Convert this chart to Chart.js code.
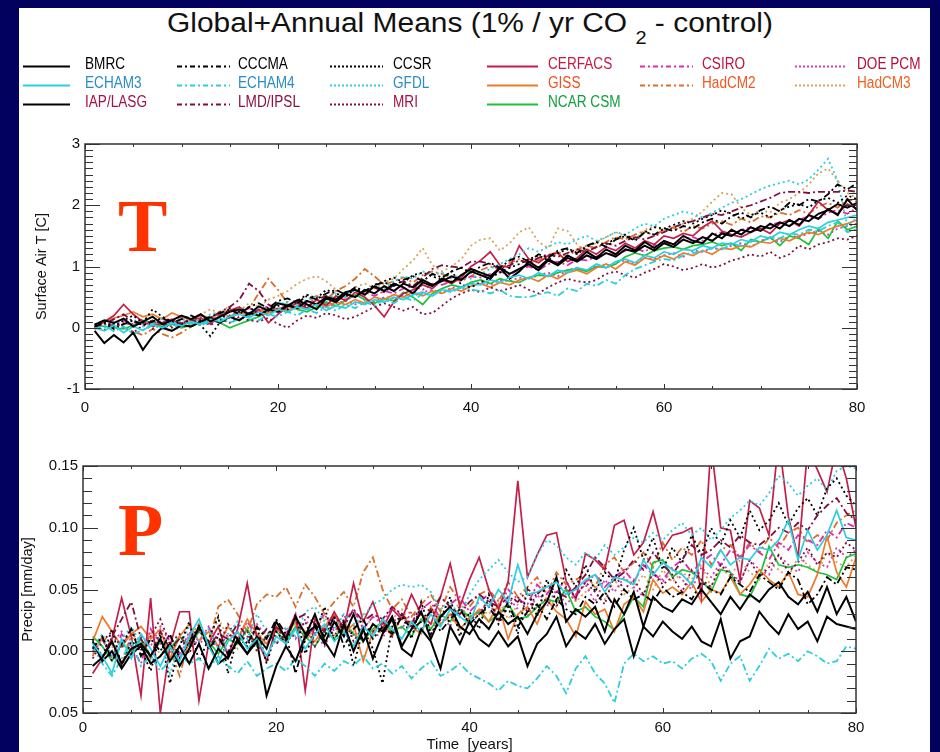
<!DOCTYPE html>
<html>
<head>
<meta charset="utf-8">
<script src="https://cdn.jsdelivr.net/npm/chart.js@4.4.1/dist/chart.umd.min.js"></script>
<style>
  body { margin: 0; width: 940px; height: 752px; overflow: hidden; position: relative;
         background: #02025e; font-family: "Liberation Sans", Arial, sans-serif; }
  #sheet { position: absolute; left: 19px; top: 8px; width: 911px; height: 744px; background: #fff; }
  #title { position: absolute; left: 470px; top: 10px; font-size: 27px; line-height: 27px;
           white-space: nowrap; color: #111; transform-origin: center top; }
  #title .sub { font-size: 18px; position: relative; top: 12px; }
  .leg { position: absolute; font-size: 16px; line-height: 16px; white-space: nowrap;
         transform: scaleX(0.85); transform-origin: left center; }
  .big { position: absolute; font-family: "Liberation Serif", "Times New Roman", serif;
         font-weight: bold; font-size: 74px; line-height: 74px; color: #ff3300; }
  canvas { position: absolute; }
</style>
</head>
<body>
<div id="sheet"></div>
<div id="title">Global+Annual Means (1% / yr CO <span class="sub">2</span> - control)</div>
<canvas id="legendLines" width="940" height="60" style="left:0;top:56px"></canvas>
<div id="legendText"></div>
<canvas id="tempChart" width="911" height="294" style="left:19px;top:126px"></canvas>
<canvas id="precipChart" width="911" height="302" style="left:19px;top:450px"></canvas>
<div class="big" style="left:118px;top:189px">T</div>
<div class="big" style="left:118px;top:493px">P</div>
<script>
const years = [1,2,3,4,5,6,7,8,9,10,11,12,13,14,15,16,17,18,19,20,
  21,22,23,24,25,26,27,28,29,30,31,32,33,34,35,36,37,38,39,40,
  41,42,43,44,45,46,47,48,49,50,51,52,53,54,55,56,57,58,59,60,
  61,62,63,64,65,66,67,68,69,70,71,72,73,74,75,76,77,78,79,80];

const models = ['BMRC', 'ECHAM3', 'IAP/LASG', 'CCCMA', 'ECHAM4', 'LMD/IPSL', 'CCSR', 'GFDL',
  'MRI', 'CERFACS', 'GISS', 'NCAR CSM', 'CSIRO', 'HadCM2', 'DOE PCM', 'HadCM3'];

// Surface air temperature change [C]
const tBMRC = [0.05,0.12,0.08,0.15,0.02,0.10,0.18,0.06,0.12,0.20, 0.14,0.22,0.10,0.18,0.26,0.30,0.22,0.35,0.28,0.40,
  0.36,0.45,0.38,0.30,0.48,0.42,0.55,0.50,0.62,0.56, 0.68,0.60,0.72,0.66,0.78,0.70,0.76,0.84,0.78,0.92,
  0.86,0.80,0.98,0.88,0.96,1.04,0.94,1.10,1.02,1.14, 1.08,1.18,1.12,1.22,1.16,1.28,1.24,1.34,1.26,1.38,
  1.32,1.44,1.38,1.48,1.42,1.54,1.50,1.60,1.56,1.66, 1.62,1.72,1.66,1.78,1.74,1.86,1.92,2.02,1.96,2.04];
const tECHAM3 = [0.00,-0.05,0.04,-0.08,0.02,-0.04,0.06,0.00,0.08,0.03, 0.10,0.06,0.14,0.10,0.18,0.22,0.16,0.26,0.20,0.30,
  0.26,0.34,0.30,0.38,0.28,0.36,0.32,0.42,0.38,0.46, 0.42,0.50,0.46,0.54,0.58,0.52,0.62,0.60,0.66,0.72,
  0.70,0.78,0.74,0.82,0.86,0.80,0.90,0.84,0.94,0.90, 0.98,0.94,1.04,0.98,1.08,1.12,1.06,1.18,1.14,1.24,
  1.20,1.28,1.26,1.34,1.30,1.38,1.36,1.44,1.40,1.50, 1.46,1.56,1.52,1.60,1.66,1.62,1.72,1.76,1.80,1.84];
const tIAP = [-0.05,-0.25,-0.12,-0.24,-0.08,-0.36,-0.14,0.00,-0.05,0.04, 0.02,0.10,0.16,0.08,0.18,0.12,0.24,0.20,0.30,0.26,
  0.36,0.32,0.44,0.38,0.50,0.46,0.58,0.62,0.54,0.68, 0.60,0.72,0.66,0.56,0.74,0.68,0.80,0.74,0.86,0.96,
  0.90,0.84,0.98,0.80,0.92,1.08,0.98,1.12,1.04,1.18, 1.10,1.24,1.14,1.28,1.20,1.34,1.26,1.40,1.30,1.42,
  1.36,1.50,1.42,1.38,1.54,1.46,1.60,1.52,1.64,1.58, 1.70,1.62,1.76,1.68,1.84,1.78,1.94,1.84,2.10,1.92];
const tCCCMA = [0.02,0.08,-0.02,0.06,0.12,0.04,0.10,0.16,0.08,0.14, 0.20,0.12,0.18,0.24,0.30,0.22,0.34,0.40,0.32,0.44,
  0.48,0.40,0.52,0.46,0.56,0.62,0.54,0.66,0.60,0.70, 0.74,0.68,0.78,0.84,0.76,0.88,0.82,0.92,0.98,0.90,
  1.00,1.06,0.98,1.10,1.16,1.08,1.20,1.14,1.26,1.30, 1.22,1.34,1.40,1.32,1.44,1.50,1.42,1.56,1.52,1.62,
  1.58,1.66,1.62,1.72,1.78,1.70,1.82,1.88,1.80,1.92, 1.98,1.90,2.04,2.00,2.10,2.06,2.18,2.34,2.26,2.36];
const tECHAM4 = [-0.02,0.04,-0.06,0.02,-0.10,-0.04,0.04,-0.02,0.06,0.00, 0.08,0.04,0.10,0.16,0.08,0.14,0.20,0.12,0.22,0.18,
  0.26,0.20,0.30,0.24,0.34,0.28,0.38,0.32,0.42,0.36, 0.46,0.40,0.50,0.44,0.56,0.52,0.62,0.58,0.66,0.62,
  0.60,0.56,0.62,0.52,0.50,0.50,0.54,0.58,0.52,0.64, 0.60,0.72,0.68,0.78,0.72,0.86,0.96,1.02,1.08,1.12,
  1.10,1.18,1.22,1.26,1.30,1.28,1.36,1.34,1.42,1.40, 1.48,1.46,1.54,1.52,1.60,1.58,1.66,1.72,1.56,1.62];
const tLMD = [0.00,0.06,0.14,0.22,0.10,0.04,0.12,0.06,0.00,0.08, 0.14,0.06,0.16,0.26,0.34,0.46,0.72,0.60,0.38,0.30,
  0.36,0.42,0.34,0.46,0.52,0.44,0.56,0.50,0.60,0.66, 0.58,0.70,0.76,0.68,0.82,0.96,1.02,1.00,0.98,1.08,
  1.08,1.04,0.96,1.02,1.10,1.06,1.14,1.20,1.16,1.22, 1.28,1.24,1.32,1.38,1.34,1.42,1.48,1.44,1.50,1.56,
  1.64,1.70,1.74,1.80,1.86,1.84,1.90,1.96,2.00,2.06, 2.12,2.20,2.22,2.22,2.20,2.22,2.22,2.22,2.24,2.22];
const tCCSR = [0.04,0.10,0.02,0.12,0.20,0.08,0.30,0.18,0.10,0.06, 0.14,0.04,-0.14,0.10,0.32,0.26,0.34,0.22,0.28,0.36,
  0.30,0.44,0.54,0.48,0.62,0.56,0.50,0.64,0.58,0.70, 0.76,0.82,0.74,0.86,0.90,0.84,0.78,0.92,0.70,0.66,
  0.74,0.82,0.90,0.98,1.04,1.12,1.18,1.10,1.22,1.28, 1.20,1.32,1.40,1.36,1.46,1.52,1.44,1.56,1.64,1.62,
  1.68,1.74,1.70,1.78,1.84,1.92,1.86,1.78,1.84,1.88, 1.80,1.92,1.98,2.02,1.96,2.08,2.12,2.04,2.16,2.10];
const tGFDL = [0.06,0.00,0.10,0.04,0.14,0.02,0.08,0.16,0.06,0.12, 0.18,0.10,0.22,0.26,0.18,0.28,0.24,0.34,0.30,0.38,
  0.42,0.36,0.46,0.52,0.44,0.56,0.50,0.62,0.58,0.68, 0.64,0.76,0.84,0.80,0.92,0.86,0.90,0.82,0.86,0.80,
  0.88,0.96,1.04,1.12,1.20,1.30,1.24,1.32,1.40,1.36, 1.44,1.50,1.42,1.48,1.56,1.52,1.62,1.70,1.66,1.78,
  1.84,1.90,1.86,1.80,1.88,1.96,2.04,2.10,2.18,2.26, 2.32,2.36,2.40,2.34,2.42,2.58,2.76,2.40,1.66,1.80];
const tMRI = [0.02,-0.04,0.06,0.00,-0.08,0.04,-0.02,0.08,0.02,0.10, 0.06,0.12,0.04,0.14,0.08,0.18,0.12,0.10,0.16,0.06,
  0.00,0.12,0.20,0.16,0.24,0.20,0.14,0.18,0.26,0.34, 0.40,0.34,0.28,0.34,0.22,0.24,0.36,0.48,0.56,0.62,
  0.58,0.66,0.60,0.64,0.70,0.62,0.56,0.66,0.74,0.80, 0.76,0.74,0.78,0.88,0.92,0.86,0.82,0.90,0.96,1.04,
  1.00,0.94,0.98,1.04,0.98,1.02,1.10,1.14,1.20,1.16, 1.24,1.14,1.20,1.34,1.28,1.36,1.40,1.46,1.44,1.50];
const tCERFACS = [-0.02,0.10,0.20,0.38,0.22,0.10,0.02,0.08,0.14,0.04, 0.10,0.16,0.06,0.20,0.28,0.34,0.22,0.30,0.08,0.22,
  0.34,0.40,0.32,0.46,0.36,0.52,0.44,0.58,0.50,0.36, 0.18,0.42,0.56,0.62,0.70,0.64,0.78,0.72,0.82,1.00,
  1.10,1.24,1.02,0.98,1.34,1.12,1.06,1.18,1.22,1.08, 1.14,1.28,1.20,1.32,1.26,1.38,1.30,1.42,1.36,1.50,
  1.46,1.54,1.50,1.64,1.74,1.58,1.52,1.48,1.56,1.62, 1.54,1.70,1.76,1.66,1.84,2.06,1.92,1.86,2.02,1.94];
const tGISS = [0.04,0.10,0.16,0.20,0.26,0.18,0.22,0.14,0.24,0.18, 0.12,0.20,0.16,0.24,0.18,0.26,0.20,0.30,0.24,0.32,
  0.28,0.36,0.30,0.40,0.34,0.42,0.38,0.46,0.40,0.50, 0.46,0.54,0.50,0.58,0.52,0.60,0.56,0.64,0.60,0.68,
  0.72,0.66,0.74,0.70,0.78,0.82,0.76,0.86,0.80,0.90, 0.94,0.88,0.98,1.04,0.96,1.08,1.02,1.14,1.10,1.18,
  1.12,1.22,1.18,1.26,1.20,1.30,1.28,1.34,1.32,1.40, 1.38,1.46,1.42,1.50,1.56,1.52,1.60,1.66,1.70,1.76];
const tNCAR = [0.06,0.02,0.00,-0.02,0.04,0.12,0.08,0.02,0.06,0.00, 0.04,0.10,0.14,0.08,0.00,0.06,0.12,0.18,0.26,0.40,
  0.38,0.30,0.26,0.34,0.42,0.36,0.44,0.54,0.46,0.40, 0.48,0.44,0.58,0.50,0.38,0.56,0.64,0.70,0.66,0.74,
  0.78,0.72,0.80,0.76,0.74,0.82,0.86,0.84,0.90,0.94, 0.96,0.92,1.00,0.98,1.04,1.16,1.22,1.18,1.26,1.30,
  1.32,1.28,1.34,1.36,1.40,1.34,1.38,1.26,1.44,1.40, 1.48,1.34,1.50,1.46,1.36,1.62,1.46,1.74,1.60,1.66];
const tCSIRO = [0.00,0.08,0.04,0.12,0.06,0.14,0.10,0.04,0.12,0.18, 0.12,0.20,0.16,0.24,0.20,0.28,0.32,0.26,0.36,0.30,
  0.38,0.34,0.42,0.46,0.40,0.50,0.46,0.54,0.58,0.52, 0.60,0.56,0.64,0.68,0.62,0.72,0.70,0.76,0.80,0.84,
  0.82,0.88,0.92,0.86,0.96,1.00,0.94,1.04,1.08,1.02, 1.12,1.10,1.16,1.22,1.18,1.26,1.30,1.24,1.34,1.40,
  1.36,1.44,1.48,1.42,1.52,1.56,1.50,1.60,1.64,1.58, 1.68,1.72,1.66,1.76,1.82,1.78,1.88,1.92,1.86,1.96];
const tHadCM2 = [0.02,-0.04,0.06,0.00,-0.06,-0.12,-0.02,-0.10,-0.16,-0.08, 0.02,0.08,0.14,0.22,0.30,0.24,0.32,0.56,0.80,0.62,
  0.40,0.30,0.44,0.52,0.46,0.60,0.68,0.80,0.96,0.84, 0.70,0.76,0.82,0.74,0.86,0.92,0.88,0.80,0.76,0.84,
  0.94,1.00,0.96,1.06,1.12,1.04,1.10,1.18,1.24,1.16, 1.28,1.34,1.30,1.40,1.48,1.44,1.52,1.58,1.50,1.60,
  1.64,1.56,1.66,1.62,1.70,1.74,1.68,1.78,1.72,1.82, 1.80,1.88,1.84,1.92,1.86,1.98,2.04,1.96,2.10,2.06];
const tDOE = [0.02,0.06,0.00,0.08,0.04,0.10,0.02,0.12,0.06,0.14, 0.10,0.18,0.12,0.20,0.16,0.22,0.18,0.26,0.22,0.30,
  0.26,0.34,0.30,0.36,0.32,0.40,0.44,0.38,0.46,0.42, 0.50,0.48,0.54,0.52,0.58,0.62,0.56,0.66,0.64,0.70,
  0.74,0.70,0.78,0.76,0.82,0.80,0.86,0.90,0.84,0.94, 0.98,0.92,1.02,1.00,1.06,1.10,1.04,1.14,1.12,1.18,
  1.22,1.16,1.26,1.24,1.30,1.28,1.34,1.38,1.32,1.42, 1.46,1.40,1.50,1.48,1.54,1.58,1.52,1.62,1.66,1.70];
const tHadCM3 = [0.00,0.04,-0.04,0.08,0.02,0.10,0.06,0.16,0.12,0.08, 0.14,0.22,0.30,0.24,0.36,0.28,0.40,0.34,0.46,0.52,
  0.60,0.72,0.80,0.84,0.76,0.62,0.56,0.66,0.72,0.64, 0.74,0.80,0.96,1.10,1.30,1.02,0.92,1.00,1.12,1.34,
  1.44,1.46,1.26,1.38,1.56,1.64,1.40,1.30,1.62,1.58, 1.36,1.24,1.40,1.48,1.56,1.50,1.44,1.60,1.66,1.58,
  1.62,1.70,1.78,1.90,2.06,2.20,2.18,1.96,1.84,1.92, 1.88,2.04,2.10,2.20,2.34,2.52,2.60,2.40,2.20,2.12];

// Precipitation change [mm/day]
const pBMRC = [-0.012,-0.005,0.008,-0.010,0.002,0.006,-0.004,0.010,-0.008,0.004, -0.010,0.006,-0.014,0.002,-0.006,0.010,-0.002,0.008,-0.036,-0.012,
  0.004,-0.008,0.012,0.030,0.008,-0.004,0.022,0.000,0.018,-0.006, 0.014,0.026,0.002,-0.004,0.018,0.008,-0.014,0.020,0.006,0.024,
  0.010,0.004,0.016,0.004,0.012,-0.012,0.006,0.014,0.028,0.004, 0.016,0.010,0.022,0.006,0.018,0.026,-0.004,0.020,0.012,0.024,
  0.016,0.010,0.020,0.008,0.004,0.026,-0.006,0.008,0.012,0.032, 0.022,0.014,0.030,0.018,0.024,0.008,0.028,0.022,0.020,0.018];
const pECHAM3 = [0.006,-0.004,-0.018,0.010,-0.006,0.014,0.002,-0.012,0.004,-0.008, 0.012,0.026,0.004,-0.010,0.008,0.016,0.002,0.010,-0.004,0.012,
  0.006,0.018,0.002,0.014,0.022,0.008,0.016,0.004,0.020,0.012, 0.026,0.018,0.010,0.024,0.016,0.030,0.020,0.034,0.028,0.022,
  0.044,0.036,0.050,0.040,0.070,0.046,0.048,0.052,0.056,0.046, 0.050,0.058,0.062,0.048,0.060,0.058,0.054,0.074,0.062,0.072,
  0.066,0.062,0.054,0.076,0.068,0.082,0.070,0.076,0.074,0.084, 0.082,0.090,0.106,0.074,0.098,0.082,0.094,0.114,0.092,0.090];
const pIAP = [0.008,-0.008,0.000,-0.014,-0.002,0.004,-0.010,-0.004,0.006,-0.012, 0.002,0.020,0.006,-0.010,-0.004,0.008,-0.002,0.012,0.002,0.024,
  0.010,0.028,0.014,0.020,0.006,0.024,0.012,0.030,0.008,0.022, 0.016,0.028,0.004,0.018,0.032,0.010,0.028,0.036,0.020,0.014,
  0.026,0.018,0.032,0.022,0.028,0.014,0.030,0.040,0.060,0.024, 0.034,0.028,0.036,0.016,0.042,0.030,0.048,0.020,0.044,0.036,
  0.032,0.042,0.038,0.050,0.040,0.030,0.044,0.034,0.046,0.040, 0.050,0.056,0.044,0.038,0.048,0.032,0.052,0.030,0.044,0.024];
const pCCCMA = [0.002,0.012,-0.008,0.006,0.018,-0.004,0.010,0.000,0.014,-0.006, 0.008,0.020,0.002,0.012,-0.002,0.016,0.006,0.020,0.010,0.026,
  0.014,-0.018,0.010,0.022,0.012,0.028,0.004,0.018,0.026,0.010, 0.020,0.014,0.028,0.018,0.024,0.032,0.016,0.026,0.034,0.022,
  0.030,0.036,0.024,0.040,0.020,0.032,0.038,0.026,0.042,0.034, 0.030,0.044,0.038,0.048,0.036,0.050,0.042,0.046,0.040,0.052,
  0.044,0.048,0.042,0.056,0.050,0.046,0.060,0.054,0.048,0.062, 0.056,0.050,0.064,0.058,0.038,0.046,0.060,0.054,0.068,0.066];
const pECHAM4 = [0.004,-0.010,-0.020,-0.006,0.008,-0.012,-0.004,-0.016,-0.008,-0.002, -0.010,-0.006,-0.014,-0.004,-0.012,-0.018,-0.008,-0.020,-0.014,-0.010,
  -0.016,-0.006,-0.012,-0.020,-0.010,-0.016,-0.008,-0.012,-0.004,-0.014, -0.010,-0.018,-0.012,-0.022,-0.014,-0.008,-0.020,-0.016,-0.010,-0.018,
  -0.022,-0.026,-0.032,-0.024,-0.028,-0.030,-0.022,-0.012,-0.020,-0.034, -0.014,-0.004,-0.018,-0.026,-0.042,-0.010,-0.002,-0.008,-0.004,-0.010,
  -0.008,-0.014,-0.006,-0.002,-0.008,-0.024,-0.010,-0.004,-0.024,-0.012, 0.002,-0.006,-0.002,-0.008,0.000,-0.004,-0.010,-0.008,0.004,0.002];
const pLMD = [0.004,-0.008,0.012,0.026,0.040,0.010,-0.004,0.016,0.002,0.010, 0.006,0.018,0.004,0.014,0.010,0.022,0.012,0.008,0.018,0.006,
  0.014,0.026,0.030,0.022,0.016,0.028,0.020,0.034,0.024,0.030, 0.026,0.036,0.030,0.022,0.038,0.032,0.044,0.036,0.030,0.040,
  0.046,0.040,0.036,0.044,0.040,0.050,0.046,0.054,0.048,0.044, 0.052,0.062,0.076,0.068,0.058,0.064,0.074,0.066,0.080,0.070,
  0.062,0.074,0.086,0.078,0.082,0.090,0.084,0.094,0.088,0.086, 0.092,0.100,0.096,0.104,0.098,0.110,0.118,0.124,0.112,0.106];
const pCCSR = [0.010,-0.006,0.018,-0.012,0.008,0.002,-0.016,0.014,-0.026,0.004, 0.024,-0.008,0.010,0.028,-0.018,0.012,0.004,0.020,-0.010,0.016,
  0.006,0.030,-0.002,0.014,0.036,0.008,0.024,-0.012,0.018,0.002, -0.026,0.020,0.030,0.010,0.040,0.014,0.026,0.044,0.012,0.032,
  0.018,0.046,0.022,0.036,0.014,0.050,0.028,0.058,0.040,0.066, 0.052,0.070,0.048,0.064,0.056,0.082,0.100,0.074,0.092,0.066,
  0.084,0.072,0.094,0.078,0.100,0.086,0.106,0.092,0.114,0.098, 0.106,0.120,0.102,0.116,0.124,0.110,0.132,0.140,0.126,0.118];
const pGFDL = [0.002,0.014,-0.004,0.010,0.020,0.006,-0.008,0.012,-0.018,0.004, 0.020,0.008,0.018,0.002,0.014,0.024,0.010,0.030,0.016,0.006,
  0.020,0.012,0.032,0.036,0.024,0.018,0.030,0.022,0.028,0.038, 0.042,0.050,0.054,0.052,0.054,0.048,0.034,0.040,0.028,0.046,
  0.058,0.066,0.074,0.064,0.056,0.060,0.078,0.090,0.086,0.076, 0.070,0.080,0.074,0.086,0.078,0.084,0.092,0.088,0.096,0.090,
  0.098,0.104,0.094,0.100,0.090,0.098,0.108,0.114,0.122,0.118, 0.128,0.142,0.136,0.126,0.134,0.140,0.130,0.146,0.150,0.148];
const pMRI = [-0.006,0.008,0.016,0.002,0.020,-0.004,0.012,0.026,0.006,0.014, -0.002,0.018,0.008,0.004,0.022,0.010,0.016,0.000,0.012,0.020,
  0.008,0.014,0.024,0.004,0.018,0.012,0.026,0.008,0.020,0.016, 0.024,0.012,0.030,0.020,0.016,0.034,0.024,0.028,0.036,0.022,
  0.030,0.042,0.026,0.036,0.044,0.032,0.048,0.040,0.036,0.052, 0.044,0.056,0.048,0.038,0.062,0.050,0.058,0.046,0.064,0.054,
  0.060,0.048,0.066,0.058,0.052,0.070,0.062,0.056,0.074,0.060, 0.068,0.078,0.064,0.072,0.084,0.070,0.080,0.076,0.088,0.082];
const pCERFACS = [-0.018,-0.006,0.010,0.043,0.012,-0.036,0.043,-0.050,0.004,0.032, 0.032,-0.040,0.006,0.020,-0.004,0.018,0.055,0.010,-0.008,0.020,
  0.012,0.030,-0.032,0.026,0.016,0.032,0.018,0.055,0.024,0.040, 0.018,0.034,0.026,0.046,0.030,0.022,0.044,0.071,0.036,0.058,
  0.076,0.050,0.034,0.056,0.138,0.060,0.078,0.094,0.096,0.057, 0.042,0.079,0.074,0.066,0.102,0.106,0.078,0.088,0.113,0.082,
  0.094,0.096,0.100,0.044,0.168,0.100,0.098,0.058,0.122,0.116, 0.094,0.172,0.109,0.076,0.164,0.147,0.129,0.166,0.140,0.100];
const pGISS = [0.008,0.028,0.016,0.004,0.014,0.020,0.010,0.018,-0.006,0.012, 0.022,0.008,0.016,0.004,0.020,0.010,0.026,0.014,0.006,0.018,
  0.012,0.024,0.016,0.008,0.020,0.030,0.014,0.022,-0.008,0.016, 0.024,0.012,0.030,0.020,0.014,0.036,0.022,0.030,0.018,0.026,
  0.034,0.024,0.038,0.010,0.030,0.036,0.022,0.042,0.032,0.026, 0.012,0.040,0.030,0.034,0.016,0.038,0.044,0.032,0.058,0.047,
  0.052,0.046,0.056,0.040,0.050,0.047,0.060,0.046,0.054,0.066, 0.058,0.052,0.064,0.046,0.044,0.062,0.093,0.064,0.052,0.076];
const pNCAR = [0.012,0.004,-0.008,0.006,0.000,0.010,-0.004,0.008,0.002,0.012, 0.004,0.016,0.008,-0.002,0.010,0.006,0.018,0.004,0.012,0.016,
  0.008,0.020,0.012,0.004,0.016,0.010,0.022,0.014,0.008,0.018, 0.024,0.016,0.020,0.012,0.026,0.018,0.030,0.024,0.034,0.028,
  0.032,0.024,0.030,0.038,0.026,0.028,0.036,0.042,0.040,0.050, 0.032,0.036,0.028,0.024,0.017,0.030,0.044,0.036,0.072,0.074,
  0.060,0.066,0.064,0.058,0.048,0.066,0.064,0.046,0.044,0.060, 0.085,0.070,0.068,0.070,0.068,0.064,0.062,0.058,0.076,0.079];
const pCSIRO = [0.000,0.010,-0.006,0.014,0.004,-0.010,0.018,0.006,0.012,-0.002, 0.016,0.008,0.020,0.002,0.014,0.010,0.024,0.012,0.006,0.018,
  0.014,0.026,0.010,0.020,0.030,0.016,0.024,0.034,0.018,0.028, 0.022,0.036,0.028,0.020,0.034,0.040,0.026,0.038,0.044,0.032,
  0.040,0.046,0.036,0.050,0.042,0.038,0.054,0.046,0.058,0.050, 0.044,0.056,0.062,0.052,0.060,0.066,0.056,0.070,0.062,0.058,
  0.068,0.074,0.064,0.072,0.078,0.070,0.082,0.076,0.086,0.080, 0.074,0.088,0.082,0.094,0.090,0.086,0.098,0.092,0.104,0.100];
const pHadCM2 = [-0.004,0.012,0.006,-0.012,0.014,0.008,-0.006,0.016,0.002,-0.020, 0.010,0.022,0.006,0.036,0.042,0.030,0.016,0.038,0.046,0.044,
  0.052,0.036,0.054,0.044,0.030,0.040,0.048,0.036,0.064,0.076, 0.050,0.034,0.042,0.028,0.038,0.046,0.032,0.052,0.040,0.036,
  0.046,0.050,0.040,0.056,0.044,0.052,0.060,0.046,0.064,0.054, 0.058,0.062,0.052,0.070,0.076,0.064,0.072,0.080,0.068,0.088,
  0.074,0.084,0.078,0.090,0.070,0.082,0.086,0.076,0.088,0.080, 0.092,0.084,0.096,0.100,0.088,0.094,0.090,0.104,0.110,0.114];
const pDOE = [0.010,-0.004,0.006,0.016,-0.002,0.012,0.004,0.020,0.008,-0.006, 0.014,0.004,0.018,0.010,0.000,0.016,0.008,0.022,0.012,0.006,
  0.018,0.010,0.026,0.014,0.004,0.020,0.030,0.012,0.022,0.016, 0.010,0.028,0.018,0.032,0.024,0.014,0.030,0.020,0.036,0.026,
  0.032,0.040,0.024,0.044,0.034,0.028,0.046,0.036,0.050,0.038, 0.046,0.054,0.040,0.058,0.048,0.060,0.052,0.044,0.064,0.056,
  0.066,0.058,0.050,0.068,0.060,0.072,0.064,0.056,0.074,0.066, 0.062,0.078,0.070,0.064,0.080,0.072,0.068,0.084,0.076,0.082];
const pHadCM3 = [-0.002,0.010,0.004,-0.010,0.012,0.002,0.016,-0.004,0.008,0.014, 0.004,0.018,0.008,0.026,0.012,0.002,0.020,0.010,0.016,0.006,
  0.014,0.022,0.008,0.018,0.028,0.012,0.024,0.016,0.030,0.020, 0.014,0.026,0.034,0.022,0.030,0.018,0.036,0.028,0.040,0.024,
  0.034,0.030,0.042,0.026,0.038,0.046,0.032,0.044,0.036,0.050, 0.040,0.048,0.054,0.042,0.058,0.046,0.052,0.062,0.050,0.066,
  0.056,0.064,0.058,0.070,0.052,0.068,0.060,0.074,0.064,0.058, 0.072,0.066,0.060,0.076,0.070,0.064,0.080,0.072,0.068,0.078];

const tempSeries = [tBMRC, tECHAM3, tIAP, tCCCMA, tECHAM4, tLMD, tCCSR, tGFDL,
  tMRI, tCERFACS, tGISS, tNCAR, tCSIRO, tHadCM2, tDOE, tHadCM3];
const precipSeries = [pBMRC, pECHAM3, pIAP, pCCCMA, pECHAM4, pLMD, pCCSR, pGFDL,
  pMRI, pCERFACS, pGISS, pNCAR, pCSIRO, pHadCM2, pDOE, pHadCM3];

const tempTicks = [-1, 0, 1, 2, 3];
const precipTicks = ['0.05', '0.00', '0.05', '0.10', '0.15'];

// line look of each model
const lineColors = ['#000000', '#2ccfe0', '#000000', '#000000', '#2ccfd8', '#7e1040', '#000000', '#2ccfe0',
  '#7e1040', '#c41e4a', '#ee7a2a', '#1ec23a', '#de2cb0', '#d8702a', '#d040b0', '#d8a45c'];
const textColors = ['#000000', '#2a8cc4', '#a01444', '#000000', '#2a8cc4', '#8c1040', '#000000', '#2a8cc4',
  '#a01444', '#c81840', '#f05020', '#10a040', '#c0143c', '#f05820', '#b01038', '#f06020'];
const lineStyles = ['solid', 'solid', 'solid', 'dashdot', 'dashdot', 'dashdot', 'dot', 'dot',
  'dot', 'solid', 'solid', 'solid', 'dashdot', 'dashdot', 'dot', 'dot'];

const dashes = { solid: [], dashdot: [7, 3, 2, 3], dot: [2, 3] };
const legendDashes = { solid: [], dashdot: [5, 3, 2, 3], dot: [2, 2] };

// legend slots: column x of line start/end and text, row y
const legCols = [[23, 70, 85], [177, 230, 238], [330, 383, 393], [487, 538, 548], [640, 693, 702], [795, 847, 857]];
const legSlots = [[0,0],[0,1],[0,2],[1,0],[1,1],[1,2],[2,0],[2,1],[2,2],[3,0],[3,1],[3,2],[4,0],[4,1],[5,0],[5,1]];
const legRows = [64, 83, 102];

function drawLegend() {
  const cv = document.getElementById('legendLines');
  const ctx = cv.getContext('2d');
  const box = document.getElementById('legendText');
  models.forEach((name, i) => {
    const [c, r] = legSlots[i];
    const [x0, x1, tx] = legCols[c];
    const y = legRows[r] + 2.5 - 56;
    ctx.save();
    ctx.strokeStyle = lineColors[i];
    ctx.lineWidth = 2;
    ctx.setLineDash(legendDashes[lineStyles[i]]);
    ctx.beginPath();
    ctx.moveTo(x0, y);
    ctx.lineTo(x1, y);
    ctx.stroke();
    ctx.restore();

    const span = document.createElement('div');
    span.className = 'leg';
    span.style.left = tx + 'px';
    span.style.top = (legRows[r] - 8) + 'px';
    span.style.color = textColors[i];
    span.textContent = name;
    box.appendChild(span);
  });
}

// inward ticks and box, drawn the IDL way
const framePlugin = {
  id: 'frame',
  afterDatasetsDraw(chart, args, o) {
    const { ctx, chartArea: a, scales: { x, y } } = chart;
    ctx.save();
    ctx.strokeStyle = '#333';
    ctx.lineWidth = 1;
    ctx.beginPath();
    const nx = Math.round((x.max - x.min) / o.xMinor);
    for (let i = 0; i <= nx; i++) {
      const v = x.min + i * o.xMinor;
      const px = Math.round(x.getPixelForValue(v)) + 0.5;
      const len = i % o.xEvery === 0 ? o.xMajorLen : o.xMinorLen;
      ctx.moveTo(px, a.bottom); ctx.lineTo(px, a.bottom - len);
      ctx.moveTo(px, a.top); ctx.lineTo(px, a.top + len);
    }
    const ny = Math.round((y.max - y.min) / o.yMinor);
    for (let i = 0; i <= ny; i++) {
      const v = y.min + i * o.yMinor;
      const py = Math.round(y.getPixelForValue(v)) + 0.5;
      const len = i % o.yEvery === 0 ? o.yMajorLen : o.yMinorLen;
      ctx.moveTo(a.left, py); ctx.lineTo(a.left + len, py);
      ctx.moveTo(a.right, py); ctx.lineTo(a.right - len, py);
    }
    ctx.stroke();
    ctx.lineWidth = 1.5;
    ctx.strokeRect(a.left, a.top, a.right - a.left, a.bottom - a.top);
    ctx.restore();
  }
};

function buildDatasets(series) {
  return series.map((data, i) => ({
    label: models[i],
    data: data,
    borderColor: lineColors[i],
    borderWidth: lineStyles[i] === 'solid' ? (lineColors[i] === '#000000' ? 2 : 1.7) : 1.8,
    borderDash: dashes[lineStyles[i]],
    pointRadius: 0,
    tension: 0,
    fill: false
  }));
}

const tickFont = { family: 'Liberation Sans', size: 15 };

function makeChart(id, series, yOpts, frame, xTitle, pad, xHeight) {
  return new Chart(document.getElementById(id), {
    type: 'line',
    data: { labels: years, datasets: buildDatasets(series) },
    options: {
      responsive: false,
      animation: false,
      events: [],
      layout: { padding: pad },
      plugins: { legend: { display: false }, tooltip: { enabled: false }, frame: frame },
      scales: {
        x: {
          type: 'linear', min: 0, max: 80,
          grid: { display: false, drawTicks: false },
          border: { display: false },
          ticks: { stepSize: 20, font: tickFont, color: '#111', padding: xTitle ? 6 : 10, maxRotation: 0 },
          title: xTitle ? { display: true, text: xTitle, font: { family: 'Liberation Sans', size: 15, lineHeight: 1 },
                            color: '#111', padding: { top: 0, bottom: 0 } } : { display: false },
          afterFit: s => { s.height = xHeight; }
        },
        y: yOpts
      }
    },
    plugins: [framePlugin]
  });
}

drawLegend();

makeChart('tempChart', tempSeries, {
  min: -1, max: 3,
  grid: { display: false, drawTicks: false },
  border: { display: false },
  afterBuildTicks: s => { s.ticks = tempTicks.map(v => ({ value: v })); },
  ticks: { font: tickFont, color: '#111', padding: 5, callback: v => String(v) },
  title: { display: true, text: 'Surface Air T [C]', font: { family: 'Liberation Sans', size: 14.5, lineHeight: 1 },
           color: '#111', padding: { top: 16, bottom: 0 } },
  afterFit: s => { s.width = 66; }
}, { xMinor: 5, xEvery: 4, xMajorLen: 5, xMinorLen: 3, yMinor: 0.1, yEvery: 10, yMajorLen: 15, yMinorLen: 8 },
  null, { left: 0, top: 18, right: 73, bottom: 0 }, 31);

makeChart('precipChart', precipSeries, {
  min: -0.05, max: 0.15,
  grid: { display: false, drawTicks: false },
  border: { display: false },
  afterBuildTicks: s => { s.ticks = precipTicks.map((t, i) => ({ value: -0.05 + i * 0.05 })); },
  ticks: { font: tickFont, color: '#111', padding: 5, callback: (v, i) => precipTicks[i] },
  title: { display: true, text: 'Precip [mm/day]', font: { family: 'Liberation Sans', size: 14.5, lineHeight: 1 },
           color: '#111', padding: { top: 2, bottom: 0 } },
  afterFit: s => { s.width = 64; }
}, { xMinor: 5, xEvery: 4, xMajorLen: 5, xMinorLen: 3, yMinor: 0.01, yEvery: 5, yMajorLen: 15, yMinorLen: 9 },
  'Time  [years]', { left: 0, top: 16, right: 74, bottom: 0 }, 39);

// stretch the title to the width it has in the original
const title = document.getElementById('title');
const tw = title.getBoundingClientRect().width;
title.style.transform = `translateX(-50%) scaleX(${606 / tw})`;
title.style.transformOrigin = 'center top';
</script>
</body>
</html>
